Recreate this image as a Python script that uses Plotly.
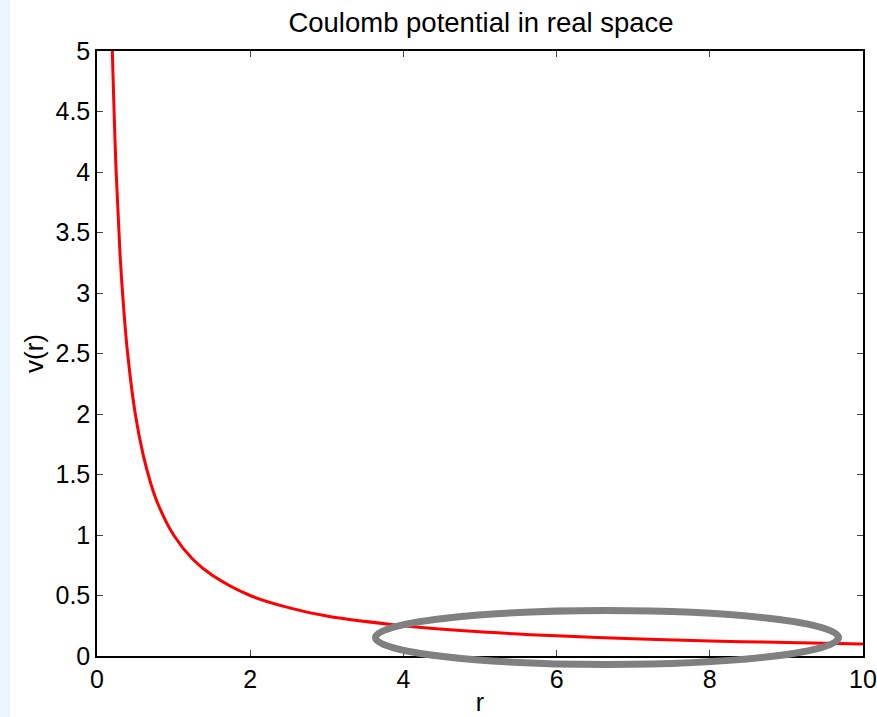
import plotly.graph_objects as go

# Data
r_vals = [0.2, 0.25, 0.3, 0.35, 0.4, 0.5, 0.6, 0.7, 0.8, 1.0, 1.25, 1.5, 2.0, 2.5, 3.0, 4.0, 5.0, 6.0, 7.0, 8.0, 9.0, 10.0]
v_vals = [5.0, 4.0, 3.33, 2.86, 2.5, 2.0, 1.67, 1.43, 1.25, 1.0, 0.8, 0.67, 0.5, 0.4, 0.33, 0.25, 0.2, 0.167, 0.143, 0.125, 0.111, 0.1]
x_ticks = [0, 2, 4, 6, 8, 10]
y_ticks = [0, 0.5, 1, 1.5, 2, 2.5, 3, 3.5, 4, 4.5, 5]
y_tick_text = ["0", "0.5", "1", "1.5", "2", "2.5", "3", "3.5", "4", "4.5", "5"]

W, H = 877, 717
L, R, T, B = 97, 14, 51, 61
pw, ph = W - L - R, H - T - B

def px_to_paper(px, py):
    return (px - L) / pw, (H - B - py) / ph

fig = go.Figure()
fig.add_trace(go.Scatter(x=r_vals, y=v_vals, mode="lines",
                         line=dict(color="#ff0000", width=3, shape="spline"),
                         showlegend=False))

x0, y0 = px_to_paper(375.5, 664.5)
x1, y1 = px_to_paper(838.5, 610.5)
sx0, _ = px_to_paper(0, 0)
sx1, _ = px_to_paper(10, 0)
_, sy0 = px_to_paper(0, H)
_, sy1 = px_to_paper(0, 0)

fig.update_layout(
    width=W, height=H, autosize=False,
    margin=dict(l=L, r=R, t=T, b=B, pad=0, autoexpand=False),
    paper_bgcolor="white", plot_bgcolor="white",
    font=dict(family="Liberation Sans, Arial, sans-serif", color="black"),
    title=dict(text="Coulomb potential in real space", x=481 / W, xanchor="center",
               y=1 - 22 / H, yanchor="middle", font=dict(size=27.5), automargin=False),
    xaxis=dict(range=[0, 10], tickvals=x_ticks, ticks="inside", ticklen=6, tickcolor="#444",
               showline=True, linecolor="black", linewidth=1.5, mirror="allticks",
               showgrid=False, zeroline=False, tickfont=dict(size=25), automargin=False,
               title=dict(text="r", font=dict(size=25), standoff=2)),
    yaxis=dict(range=[0, 5], tickvals=y_ticks, ticktext=y_tick_text, ticks="inside", ticklen=6,
               tickcolor="#444", showline=True, linecolor="black", linewidth=1.5, mirror="allticks",
               showgrid=False, zeroline=False, tickfont=dict(size=25), automargin=False,
               title=dict(text="v(r)", font=dict(size=26), standoff=4)),
    shapes=[
        dict(type="rect", xref="paper", yref="paper", x0=sx0, x1=sx1, y0=sy0, y1=sy1,
             fillcolor="#ebf5fd", line=dict(width=0), layer="below"),
        dict(type="circle", xref="paper", yref="paper", x0=x0, x1=x1, y0=y0, y1=y1,
             line=dict(color="#808080", width=7), fillcolor="rgba(0,0,0,0)", layer="above"),
    ],
)

fig.write_html("out.html")
